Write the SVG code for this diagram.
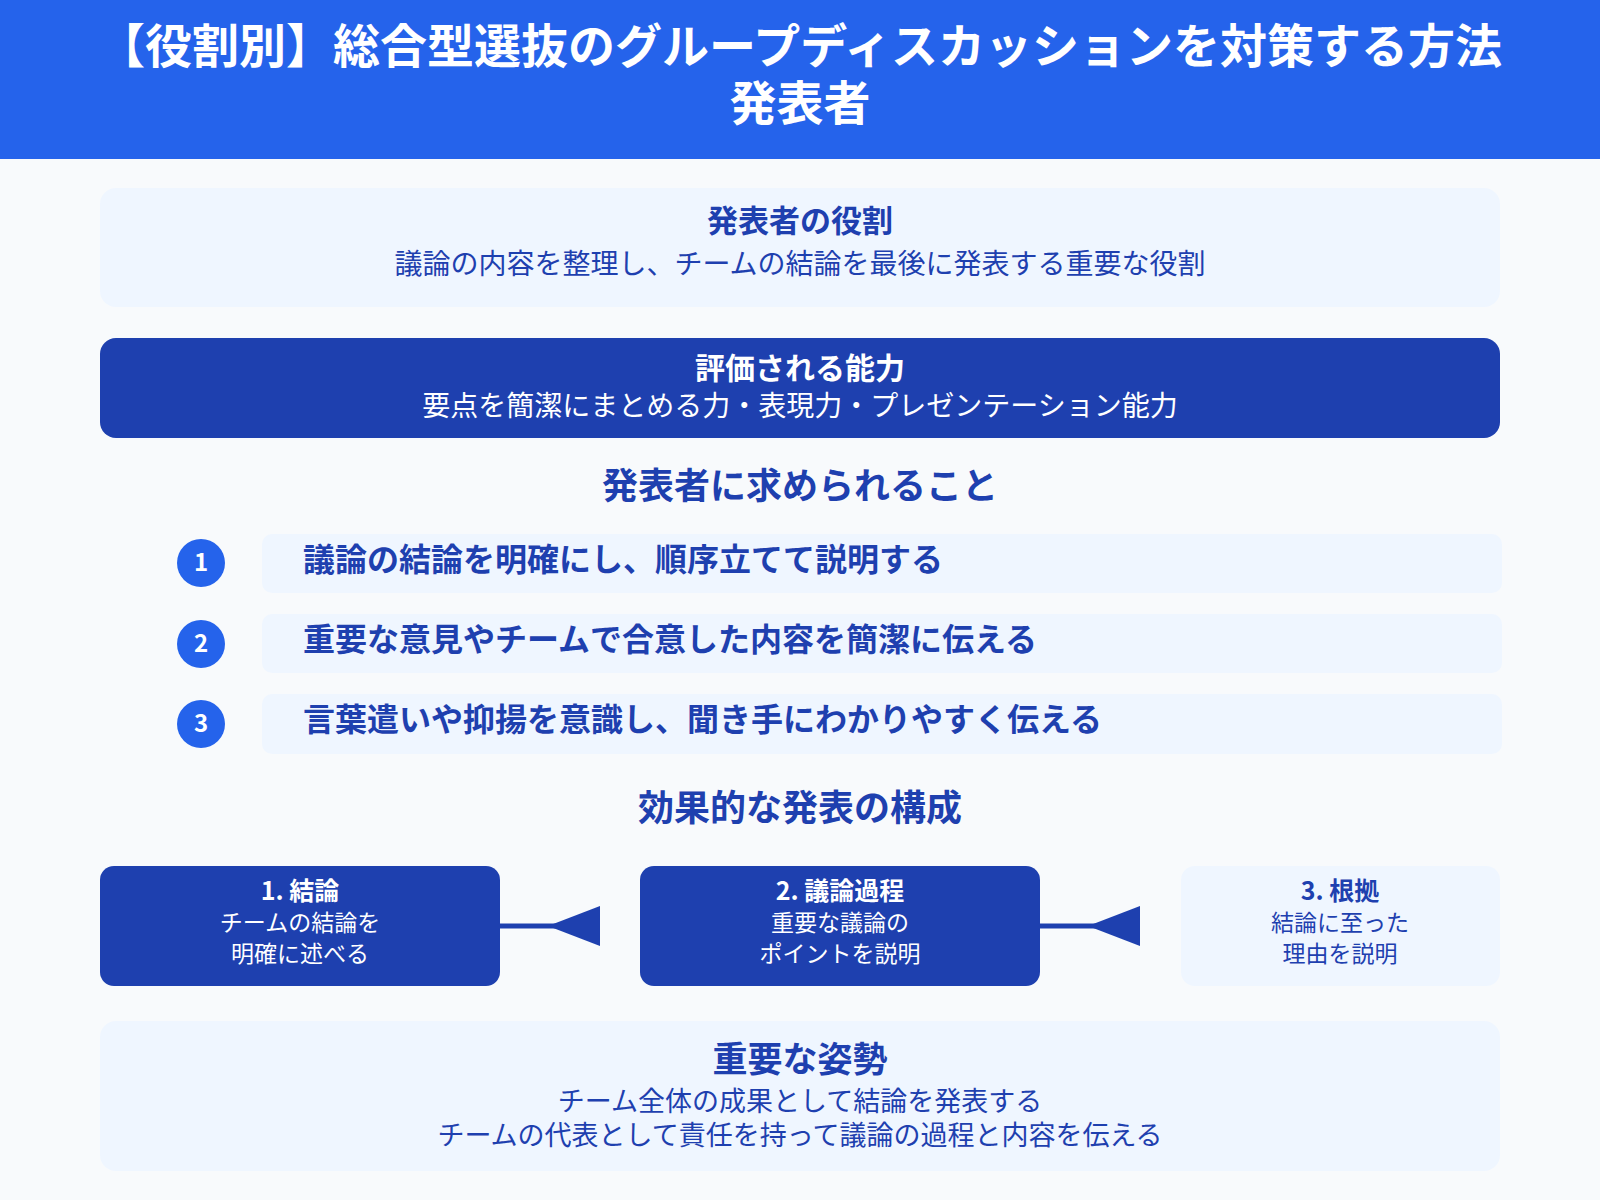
<svg xmlns="http://www.w3.org/2000/svg" width="1600" height="1200" viewBox="0 0 1600 1200">
<style>
text{font-family:"Noto Sans CJK JP","Noto Sans",sans-serif;text-anchor:middle;dominant-baseline:middle}
.b{font-weight:bold}
.d{fill:#1E40AF}
.w{fill:#fff}
.light{fill:#EFF6FF}
.dark{fill:#1E40AF}
</style>
<rect width="1600" height="1200" fill="#F8FAFC"/>
<g id="header">
<rect width="1600" height="159" fill="#2563EB"/>
<text x="800" y="50" class="b w" font-size="47">【役割別】総合型選抜のグループディスカッションを対策する方法</text>
<text x="800" y="107" class="b w" font-size="47">発表者</text>
</g>
<g id="role">
<rect x="100" y="188" width="1400" height="119" rx="16" class="light"/>
<text x="800" y="224" class="b d" font-size="31">発表者の役割</text>
<text x="800" y="266" class="d" font-size="28">議論の内容を整理し、チームの結論を最後に発表する重要な役割</text>
</g>
<g id="ability">
<rect x="100" y="338" width="1400" height="100" rx="16" class="dark"/>
<text x="800" y="371" class="b w" font-size="30">評価される能力</text>
<text x="800" y="408" class="w" font-size="28">要点を簡潔にまとめる力・表現力・プレゼンテーション能力</text>
</g>
<text x="800" y="489" class="b d" font-size="36">発表者に求められること</text>
<g id="item1">
<rect x="262" y="534" width="1240" height="59" rx="10" class="light"/>
<circle cx="201" cy="563" r="24" fill="#2563EB"/>
<text x="201" y="564" class="b w" font-size="24">1</text>
<text x="303" y="562" class="b d" font-size="32" style="text-anchor:start">議論の結論を明確にし、順序立てて説明する</text>
</g>
<g id="item2">
<rect x="262" y="614" width="1240" height="59" rx="10" class="light"/>
<circle cx="201" cy="644" r="24" fill="#2563EB"/>
<text x="201" y="645" class="b w" font-size="24">2</text>
<text x="303" y="642" class="b d" font-size="32" style="text-anchor:start">重要な意見やチームで合意した内容を簡潔に伝える</text>
</g>
<g id="item3">
<rect x="262" y="694" width="1240" height="60" rx="10" class="light"/>
<circle cx="201" cy="724" r="24" fill="#2563EB"/>
<text x="201" y="725" class="b w" font-size="24">3</text>
<text x="303" y="722" class="b d" font-size="32" style="text-anchor:start">言葉遣いや抑揚を意識し、聞き手にわかりやすく伝える</text>
</g>
<text x="800" y="811" class="b d" font-size="36">効果的な発表の構成</text>
<g id="step1">
<rect x="100" y="866" width="400" height="120" rx="14" class="dark"/>
<text x="300" y="893" class="b w" font-size="25">1. 結論</text>
<text x="300" y="925" class="w" font-size="23">チームの結論を</text>
<text x="300" y="956" class="w" font-size="23">明確に述べる</text>
</g>
<g id="step2">
<rect x="640" y="866" width="400" height="120" rx="14" class="dark"/>
<text x="840" y="893" class="b w" font-size="25">2. 議論過程</text>
<text x="840" y="925" class="w" font-size="23">重要な議論の</text>
<text x="840" y="956" class="w" font-size="23">ポイントを説明</text>
</g>
<g id="step3">
<rect x="1181" y="866" width="319" height="120" rx="14" class="light"/>
<text x="1340" y="893" class="b d" font-size="25">3. 根拠</text>
<text x="1340" y="925" class="d" font-size="23">結論に至った</text>
<text x="1340" y="956" class="d" font-size="23">理由を説明</text>
</g>
<g id="connectors" fill="#1E40AF" stroke="#1E40AF">
<line x1="500" y1="926" x2="560" y2="926" stroke-width="5"/>
<polygon points="548,926 600,906 600,946" stroke="none"/>
<line x1="1040" y1="926" x2="1100" y2="926" stroke-width="5"/>
<polygon points="1088,926 1140,906 1140,946" stroke="none"/>
</g>
<g id="attitude">
<rect x="100" y="1021" width="1400" height="150" rx="16" class="light"/>
<text x="800" y="1062" class="b d" font-size="35">重要な姿勢</text>
<text x="800" y="1104" class="d" font-size="27">チーム全体の成果として結論を発表する</text>
<text x="800" y="1138" class="d" font-size="27">チームの代表として責任を持って議論の過程と内容を伝える</text>
</g>
</svg>
